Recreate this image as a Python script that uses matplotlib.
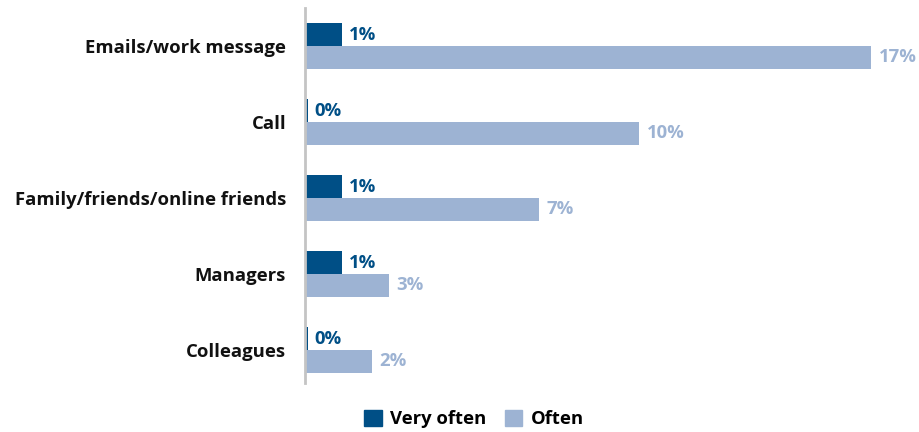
import matplotlib
matplotlib.use("Agg")
import matplotlib.pyplot as plt
from matplotlib.patches import Patch
from matplotlib import font_manager
from matplotlib.font_manager import FontProperties
import math

categories = ["Emails/work message", "Call", "Family/friends/online friends",
              "Managers", "Colleagues"]
very_often = [1.1, 0.08, 1.1, 1.1, 0.08]
often = [16.95, 10.0, 7.0, 2.5, 2.0]
series_names = ["Very often", "Often"]

dark = "#004f86"
light = "#9db3d3"
FS = 13.3

# Open Sans Bold, picked by file so no condensed face is chosen
bold_file = None
for f in font_manager.fontManager.ttflist:
    if f.fname.endswith("OpenSans-Bold.ttf"):
        bold_file = f.fname
        break

def bold(size=FS):
    if bold_file:
        return FontProperties(fname=bold_file, size=size)
    return FontProperties(family="DejaVu Sans", weight="bold", size=size)

def pct(v):
    return f"{math.floor(v + 0.5):d}%"

fig = plt.figure(figsize=(9.19, 4.32), dpi=100)
ax = fig.add_axes([305 / 919, 1 - 383 / 432, 1 - 305 / 919, 375 / 432])

h = 0.30
ys = list(range(len(categories)))
ax.barh([y - h / 2 for y in ys], very_often, height=h, color=dark)
ax.barh([y + h / 2 for y in ys], often, height=h, color=light)

for y, v in zip(ys, very_often):
    ax.annotate(pct(v), (v, y - h / 2), xytext=(5, 0), textcoords="offset points",
                va="center", ha="left", fontproperties=bold(), color=dark)
for y, v in zip(ys, often):
    ax.annotate(pct(v), (v, y + h / 2), xytext=(5.5, 0), textcoords="offset points",
                va="center", ha="left", fontproperties=bold(), color=light)

ax.set_xlim(0, (919 - 305) / 33.4)
ax.set_ylim(4.434, -0.5)
ax.set_yticks(ys)
ax.set_yticklabels(categories, color="#111111")
for t in ax.get_yticklabels():
    t.set_fontproperties(bold())
ax.tick_params(axis="y", length=0, pad=13.5)
ax.set_xticks([])
for s in ["top", "right", "bottom"]:
    ax.spines[s].set_visible(False)
ax.spines["left"].set_color("#c4c4c4")
ax.spines["left"].set_linewidth(2)

handles = [Patch(color=dark), Patch(color=light)]
fig.legend(handles, series_names, loc="center", bbox_to_anchor=(474 / 919, 1 - 419 / 432),
           ncol=2, frameon=False, handlelength=0.95, handleheight=0.95,
           handletextpad=0.45, columnspacing=1.0, prop=bold())

fig.savefig("out.png", dpi=100)
